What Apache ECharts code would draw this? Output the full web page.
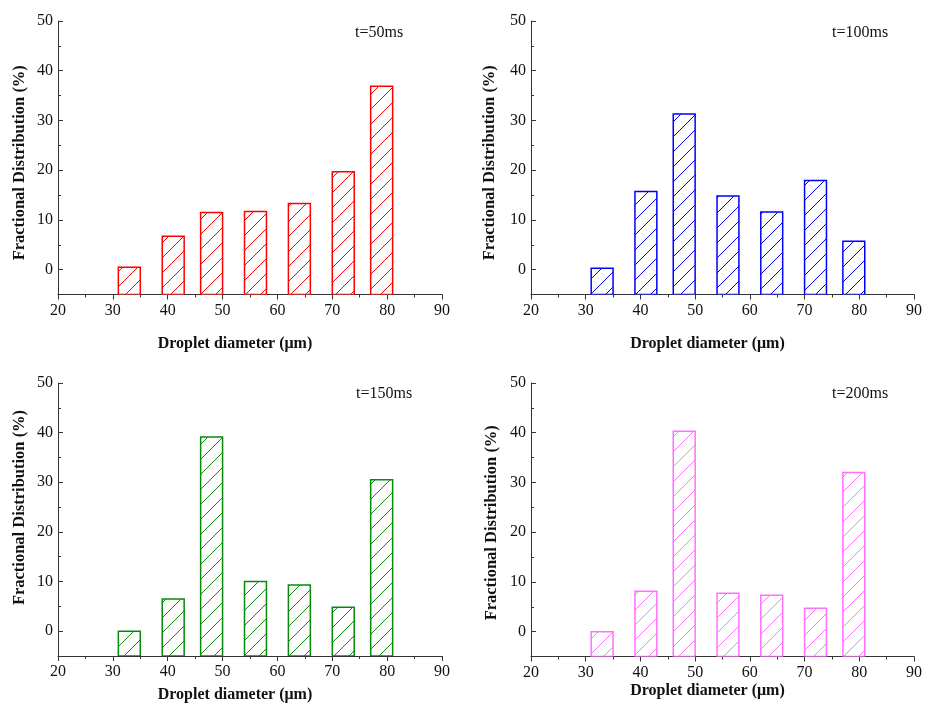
<!DOCTYPE html>
<html>
<head>
<meta charset="utf-8">
<script src="https://cdn.jsdelivr.net/npm/echarts@6/dist/echarts.min.js"></script>
<style>
  html, body { margin: 0; padding: 0; background: #ffffff; }
  #chart { width: 925px; height: 704px; }
</style>
</head>
<body>
<div id="chart"></div>
<script>
// Droplet size bins (bin centres, µm) and bin width
const DIAMETERS = [33, 41, 48, 56, 64, 72, 79];
const BIN_WIDTH = 4;

// Fractional distribution (%) at each time step
const DIST_50MS  = [0.5, 6.7, 11.5, 11.7, 13.3, 19.7, 36.9];
const DIST_100MS = [0.3, 15.7, 31.3, 14.8, 11.6, 17.9, 5.7];
const DIST_150MS = [0.0, 6.5, 39.1, 10.0, 9.3, 4.8, 30.5];
const DIST_200MS = [0.0, 8.1, 40.3, 7.7, 7.3, 4.7, 32.0];

const TIME_LABELS = ['t=50ms', 't=100ms', 't=150ms', 't=200ms'];
const Y_MAJOR = [0, 10, 20, 30, 40, 50];
const Y_MINOR = [5, 15, 25, 35, 45];
const X_NAME = 'Droplet diameter (\u03bcm)';
const Y_NAME = 'Fractional Distribution (%)';

const Y_MIN = -5, Y_MAX = 50, X_MIN = 20, X_MAX = 90;

const SERIF = '"Liberation Serif", "Times New Roman", serif';
const INK = '#111111';
const HATCH_STEP = 15; // px between hatch lines, measured vertically

// "/" hatch lines clipped to a rectangle (screen coords): lines x + y = c
function hatchLines(x0, y0, x1, y1, color) {
  const out = [];
  const cStart = Math.ceil((x0 + y0) / HATCH_STEP) * HATCH_STEP;
  for (let c = cStart; c <= x1 + y1; c += HATCH_STEP) {
    const xa = Math.max(x0, c - y1);
    const xb = Math.min(x1, c - y0);
    if (xb - xa < 0.5) continue;
    out.push({
      type: 'line',
      shape: { x1: xa, y1: c - xa, x2: xb, y2: c - xb },
      style: { stroke: color, lineWidth: 1 },
      silent: true
    });
  }
  return out;
}

const panels = [
  { data: DIST_50MS,  color: '#ff0000', left: 58,  top: 21,  title: [350, 20],  xGap: 41, yGap: 30, yShift: 10 },
  { data: DIST_100MS, color: '#0000ff', left: 531, top: 21,  title: [827, 20],  xGap: 41, yGap: 33, yShift: 10 },
  { data: DIST_150MS, color: '#0a8a0a', left: 58,  top: 383, title: [351, 381], xGap: 31, yGap: 30, yShift: -24 },
  { data: DIST_200MS, color: '#ff70ff', left: 531, top: 383, title: [827, 381], xGap: 26, yGap: 31, yShift: 6 }
];

const grid = [], xAxis = [], yAxis = [], series = [], title = [];

panels.forEach((p, i) => {
  grid.push({ left: p.left, top: p.top, width: 384, height: 273.5, containLabel: false });

  title.push({
    text: TIME_LABELS[i], left: p.title[0], top: p.title[1],
    textStyle: { fontFamily: SERIF, fontSize: 16, fontWeight: 'normal', color: INK }
  });

  xAxis.push({
    type: 'value', gridIndex: i, min: X_MIN, max: X_MAX, interval: 10,
    name: X_NAME, nameLocation: 'middle', nameGap: p.xGap,
    nameTextStyle: { fontFamily: SERIF, fontSize: 16, fontWeight: 'bold', color: INK, padding: [0, 30, 0, 0] },
    axisLine: { onZero: false, lineStyle: { color: '#333333', width: 1 } },
    axisTick: { show: true, inside: false, length: 5, lineStyle: { color: '#333333' } },
    minorTick: { show: true, splitNumber: 2, length: 3, lineStyle: { color: '#333333' } },
    axisLabel: { fontFamily: SERIF, fontSize: 16, color: INK, margin: 8 },
    splitLine: { show: false }
  });

  // main value axis: labels and major ticks
  yAxis.push({
    type: 'value', gridIndex: i, min: Y_MIN, max: Y_MAX, position: 'left',
    name: Y_NAME, nameLocation: 'middle', nameGap: p.yGap, nameRotate: 90,
    nameTextStyle: {
      fontFamily: SERIF, fontSize: 16.5, fontWeight: 'bold', color: INK,
      padding: p.yShift >= 0 ? [0, p.yShift, 0, 0] : [0, 0, 0, -p.yShift]
    },
    axisLine: { show: true, lineStyle: { color: '#333333', width: 1 } },
    axisTick: { show: true, inside: true, length: 5, customValues: Y_MAJOR, lineStyle: { color: '#333333' } },
    axisLabel: { fontFamily: SERIF, fontSize: 16, color: INK, margin: 5, customValues: Y_MAJOR },
    splitLine: { show: false }
  });
});

// companion axes carrying the minor ticks of each value axis
panels.forEach((p, i) => {
  yAxis.push({
    type: 'value', gridIndex: i, min: Y_MIN, max: Y_MAX, position: 'left',
    axisLine: { show: false },
    axisTick: { show: true, inside: true, length: 3, customValues: Y_MINOR, lineStyle: { color: '#333333' } },
    axisLabel: { show: false },
    splitLine: { show: false }
  });
});

panels.forEach((p, i) => {
  series.push({
    type: 'custom',
    xAxisIndex: i, yAxisIndex: i,
    data: DIAMETERS.map((d, k) => [d, p.data[k]]),
    clip: true,
    renderItem: (params, api) => {
      const x = api.value(0), y = api.value(1);
      const tl = api.coord([x - BIN_WIDTH / 2, y]);
      const br = api.coord([x + BIN_WIDTH / 2, Y_MIN]);
      return {
        type: 'group',
        children: [
          {
            type: 'rect',
            shape: { x: tl[0], y: tl[1], width: br[0] - tl[0], height: br[1] - tl[1] },
            style: { fill: '#ffffff', stroke: p.color, lineWidth: 1.5 }
          }
        ].concat(hatchLines(tl[0], tl[1], br[0], br[1], p.color))
      };
    }
  });
});

const chart = echarts.init(document.getElementById('chart'), null, { renderer: 'canvas' });
chart.setOption({
  backgroundColor: '#ffffff',
  animation: false,
  title, grid, xAxis, yAxis, series
});
</script>
</body>
</html>
